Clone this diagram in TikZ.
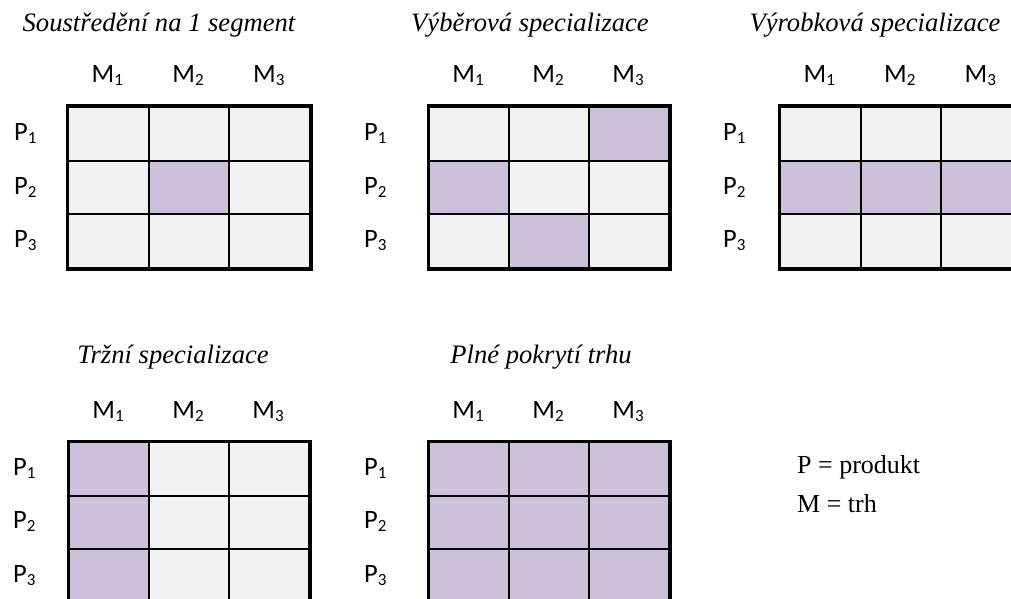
\documentclass[tikz,border=0pt]{standalone}
\usepackage{fontspec}
\setmainfont{Liberation Serif}
\newfontfamily\calib{Carlito}
\definecolor{cellgray}{HTML}{F2F2F2}
\definecolor{cellpurple}{HTML}{CCC0DA}
\tikzset{
  cell/.style={fill=cellgray, draw=black, line width=2pt, anchor=north west, inner sep=0pt},
  cellon/.style={fill=cellpurple, draw=black, line width=2pt, inner sep=0pt},
  frame/.style={draw=black, line width=3pt},
  gtitle/.style={font=\fontsize{26.6}{26.6}\selectfont\itshape, anchor=base, inner sep=0pt},
  mlab/.style={font=\calib\fontsize{26.5}{26.5}\selectfont, anchor=base, inner sep=0pt},
  plab/.style={font=\calib\fontsize{26.5}{26.5}\selectfont, anchor=base west, inner sep=0pt},
  legend/.style={font=\fontsize{26}{26}\selectfont, anchor=base west, inner sep=0pt}
}
\newcommand{\lbsub}[2]{#1\raisebox{-3pt}{\fontsize{17}{17}\selectfont #2}}
% \mkgrid{name}{left}{top}{cw}{rh}{plabx}{on-list r/c}
\newcommand{\mkgrid}[7]{%
  \foreach \r in {0,1,2}{\foreach \c in {0,1,2}{
    \node[cell, minimum width=#4pt, minimum height=#5pt] (#1\r\c) at ({#2+\c*#4},{#3+\r*#5}) {};}}
  \foreach \rr/\cc in {#7}{
    \node[cellon, minimum width=#4pt, minimum height=#5pt] (#1on\rr\cc) at (#1\rr\cc.center) {};}
  \draw[frame] (#100.north west) rectangle (#122.south east);
  \foreach \c/\k in {0/1,1/2,2/3}{
    \node[mlab] (#1m\k) at ({#2+(\c+0.5)*#4},{#3-23}) {\lbsub{M}{\k}};}
  \foreach \r/\k in {0/1,1/2,2/3}{
    \node[plab] (#1p\k) at (#6,{#3+(\r+0.5)*#5+7.5}) {\lbsub{P}{\k}};}
}
\begin{document}
\begin{tikzpicture}[x=1pt,y=-1pt]
\useasboundingbox[fill=white] (0,0) rectangle (1011,599);
\clip (0,0) rectangle (1011,599);
\mkgrid{A}{67}{106}{80.7}{53.7}{14}{1/1}
\mkgrid{B}{428}{106}{80}{53.7}{364}{0/2,1/0,2/1}
\mkgrid{C}{779}{106}{80.5}{53.7}{723}{1/0,1/1,1/2}
\mkgrid{D}{68}{441}{80}{53.5}{13}{0/0,1/0,2/0}
\mkgrid{E}{428}{441}{80}{53.5}{364}{0/0,0/1,0/2,1/0,1/1,1/2,2/0,2/1,2/2}
\node[gtitle] (tA) at (159,32) {Soustředění na 1 segment};
\node[gtitle] (tB) at (530,32) {Výběrová specializace};
\node[gtitle] (tC) at (875,32) {Výrobková specializace};
\node[gtitle] (tD) at (173,363) {Tržní specializace};
\node[gtitle] (tE) at (541,363) {Plné pokrytí trhu};
\node[legend] (lp) at (797,473) {P = produkt};
\node[legend] (lm) at (797,512) {M = trh};
\end{tikzpicture}
\end{document}
